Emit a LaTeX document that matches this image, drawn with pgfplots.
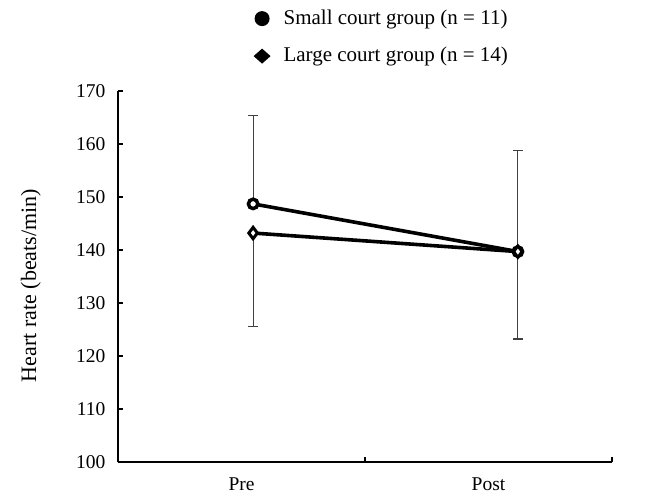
\documentclass[border=0pt]{standalone}
\usepackage{pgfplots}
\pgfplotsset{compat=1.18}
\usepackage{fontspec}
\setmainfont{Liberation Serif}
\definecolor{ebar}{HTML}{404040}
\begin{document}
\fontsize{19.5}{23}\selectfont
\begin{tikzpicture}
\useasboundingbox (0,0) rectangle (657pt,499pt);
\begin{axis}[
  at={(118pt,37pt)}, anchor=south west,
  scale only axis, width=494pt, height=371pt,
  xmin=0, xmax=2, ymin=100, ymax=170,
  axis lines*=left,
  axis line style={line width=2.2pt, black},
  tick align=inside,
  major tick length=5pt,
  tick style={line width=2pt, black},
  xtick={0,1,2}, xticklabels={},
  extra x ticks={0.5,1.5},
  extra x tick labels={Pre,Post},
  extra x tick style={major tick length=0pt, tick label style={yshift=-9pt}},
  ytick={100,110,...,170},
  yticklabel style={xshift=-6pt},
  /pgf/number format/assume math mode=true,
  ylabel={Heart rate (beats/min)},
  ylabel style={font=\fontsize{22}{26}\selectfont, yshift=22pt, xshift=-9pt},
  legend style={draw=none, fill=none, at={(rel axis cs:0.268,1.23)}, anchor=north west,
    row sep=16pt, legend cell align=left, font=\fontsize{21}{24}\selectfont},
  clip=false,
]
% error bars
\addplot[draw=none, forget plot,
  error bars/.cd, y dir=plus, y explicit,
  error bar style={line width=1.1pt, ebar},
  error mark options={rotate=90, mark size=5pt, line width=1.1pt, ebar}]
  coordinates {(0.547,148.7) +- (0,16.6) (1.619,139.7) +- (0,19.0)};
\addplot[draw=none, forget plot,
  error bars/.cd, y dir=minus, y explicit,
  error bar style={line width=1.1pt, ebar},
  error mark options={rotate=90, mark size=5pt, line width=1.1pt, ebar}]
  coordinates {(0.547,143.2) +- (0,17.7) (1.619,139.7) +- (0,16.5)};
% lines
\addplot[black, line width=3.6pt, mark=*, mark size=4.7pt,
  mark options={fill=white, line width=3.5pt},
  legend image code/.code={\path[draw=none,fill=none] (0,0) -- (28pt,0); \path[draw=none,fill=black] (8.5pt,0) circle (7.5pt);}]
  coordinates {(0.547,148.7) (1.619,139.7)};
\addlegendentry{Small court group (n = 11)}
\addplot[black, line width=3.6pt, mark=diamond*, mark size=5.7pt,
  mark options={fill=white, line width=3pt},
  legend image code/.code={\path[draw=none,fill=none] (0,0) -- (28pt,0); \path[draw=none,fill=black] (8.5pt,7.5pt) -- (17pt,0) -- (8.5pt,-7.5pt) -- (0pt,0) -- cycle;}]
  coordinates {(0.547,143.2) (1.619,139.7)};
\addlegendentry{Large court group (n = 14)}
\end{axis}
\end{tikzpicture}
\end{document}
